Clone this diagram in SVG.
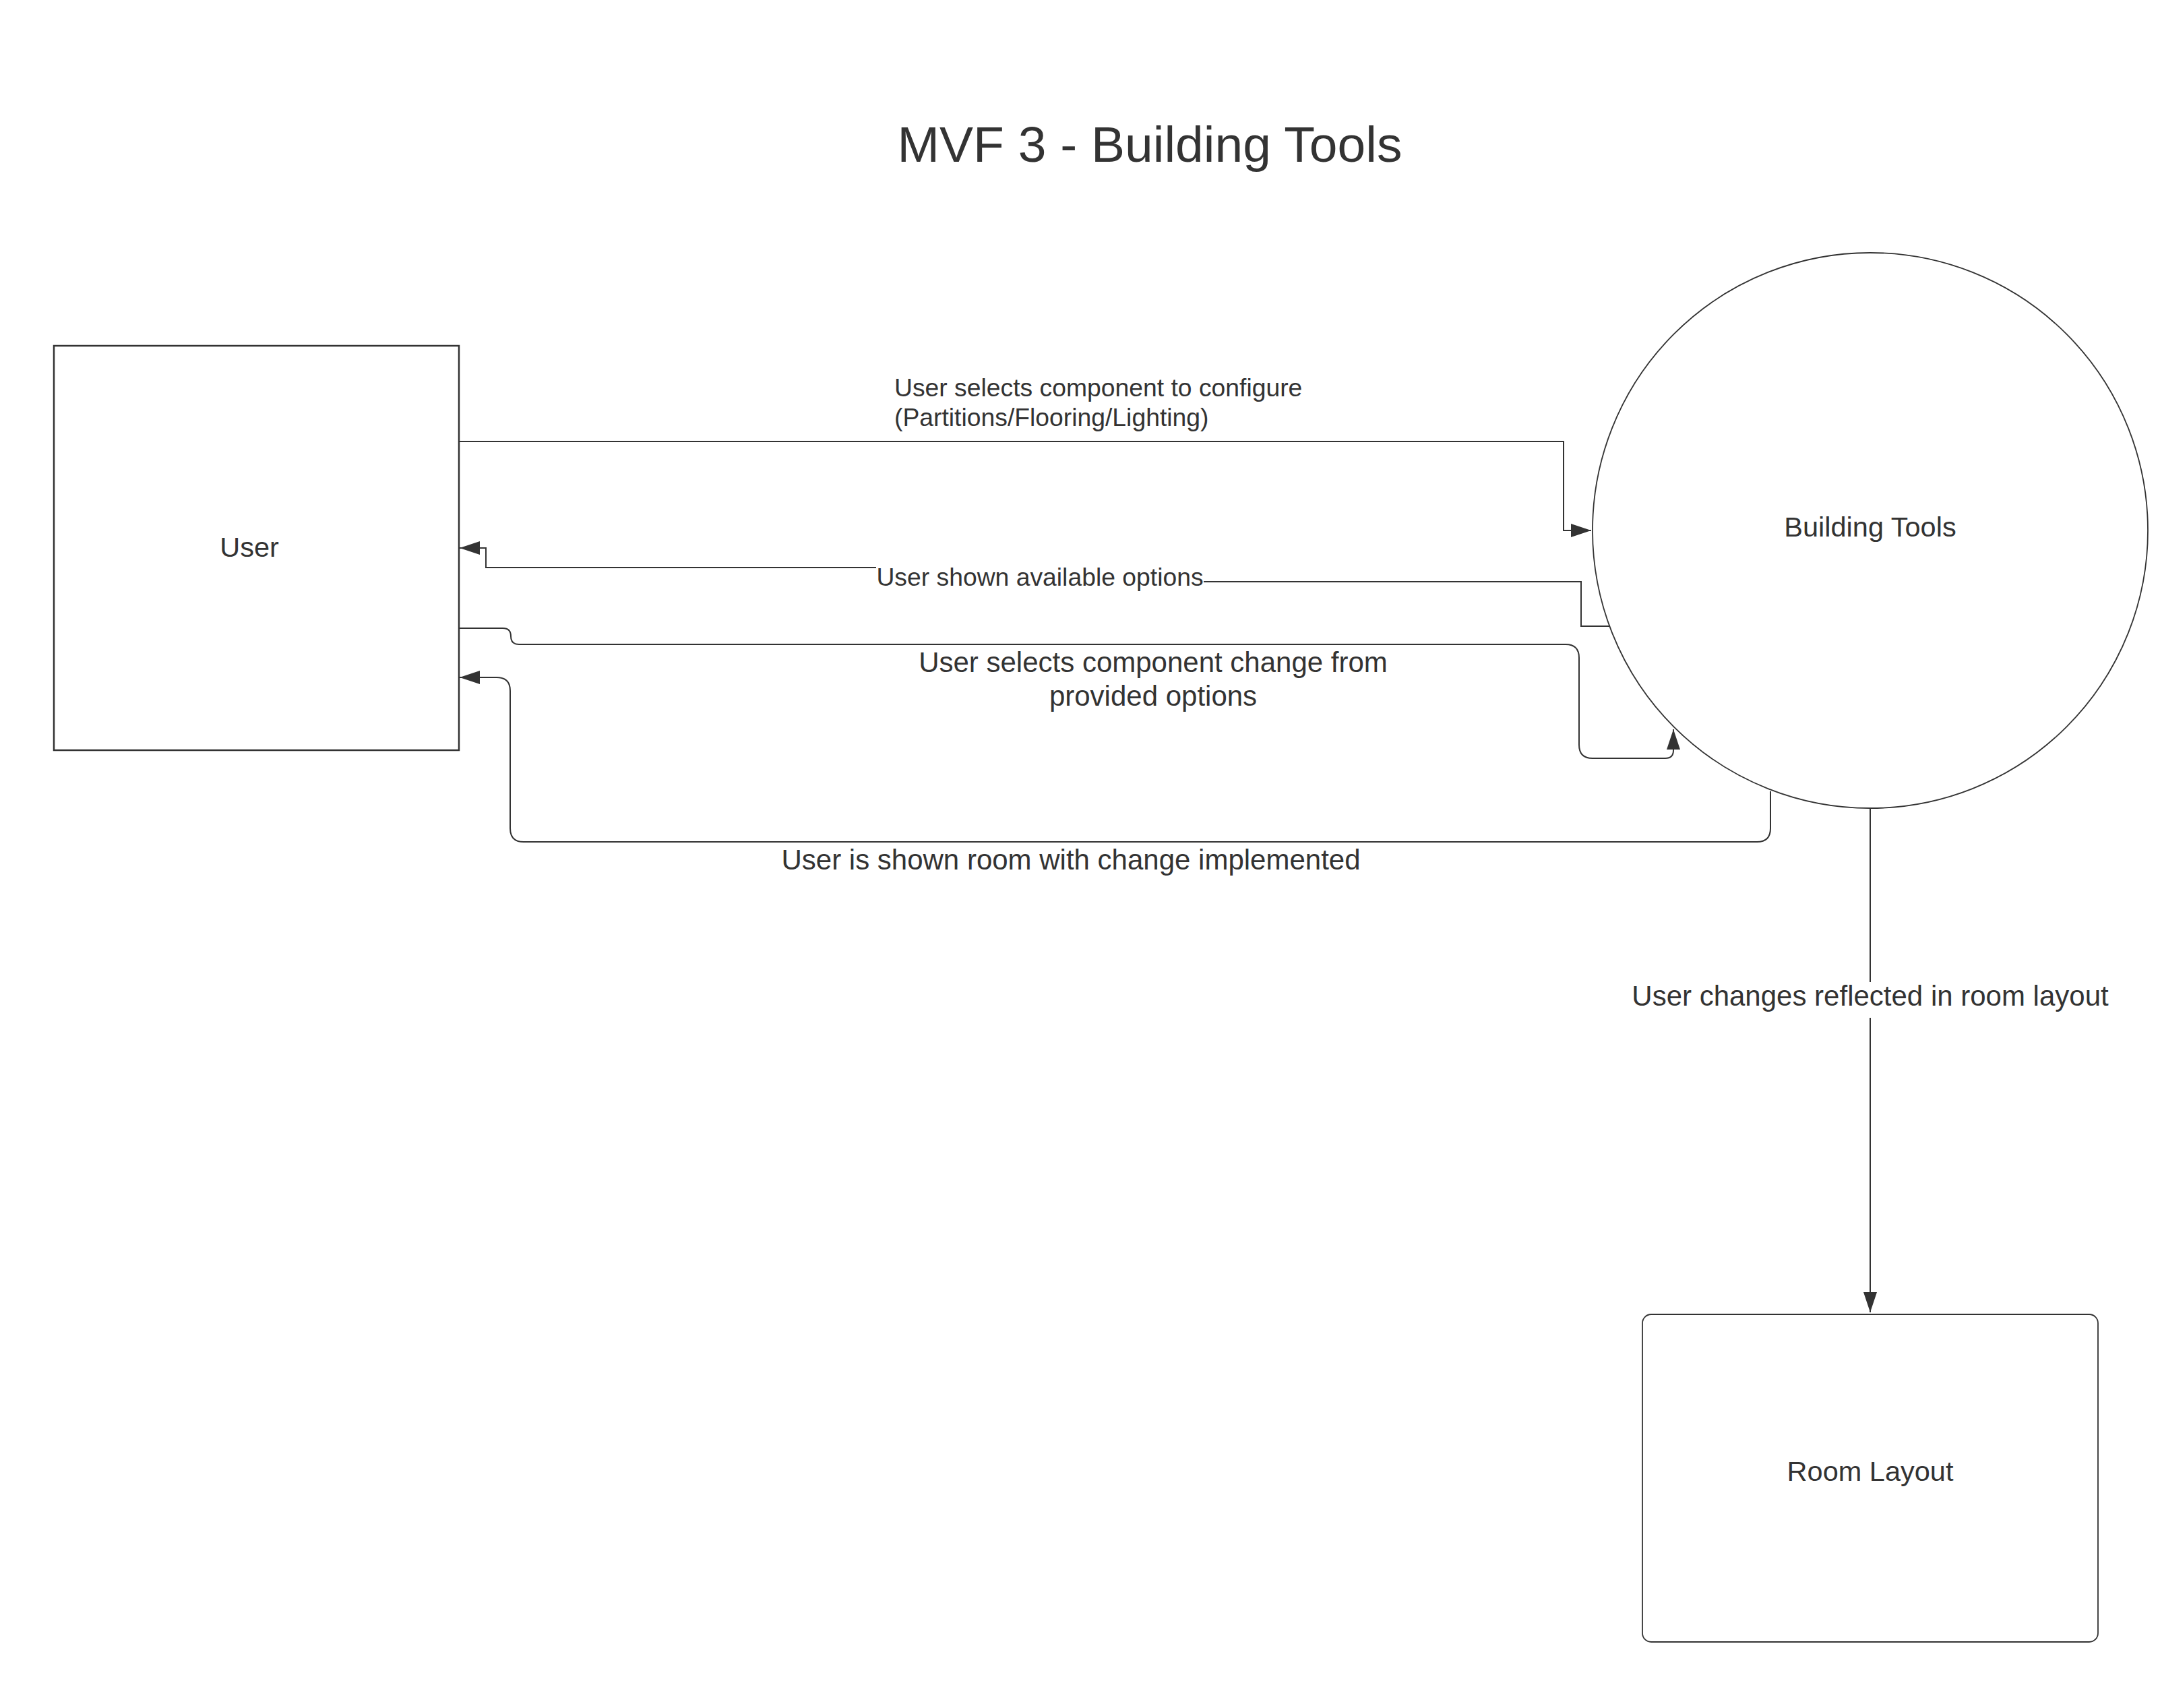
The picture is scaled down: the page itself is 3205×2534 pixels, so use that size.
<svg xmlns="http://www.w3.org/2000/svg" width="3205" height="2534" viewBox="0 0 3205 2534">
<style>
text{font-family:"Liberation Sans",Arial,sans-serif;fill:#333333}
.title{font-size:75px}
.node{font-size:41.5px}
.lbl{font-size:42px}
.lbls{font-size:37.3px}
.shape{fill:#ffffff;stroke:#333333}
.conn{fill:none;stroke:#333333;stroke-width:2}
.bg{fill:#ffffff}
</style>
<defs>
<marker id="arrow" markerUnits="userSpaceOnUse" markerWidth="31" markerHeight="20" refX="30" refY="10" orient="auto">
<path d="M0,0 L30,10 L0,20 Z" fill="#333333"/>
</marker>
</defs>
<rect width="3205" height="2534" fill="#ffffff"/>
<text class="title" x="1706" y="240" text-anchor="middle">MVF 3 - Building Tools</text>
<g id="node-user">
<rect class="shape" x="80" y="513" width="601" height="600" stroke-width="2.5"/>
<text class="node" x="370" y="826" text-anchor="middle">User</text>
</g>
<g id="node-building-tools">
<circle class="shape" cx="2775" cy="787" r="412" stroke-width="1.8"/>
<text class="node" x="2775" y="796" text-anchor="middle">Building Tools</text>
</g>
<g id="node-room-layout">
<rect class="shape" x="2437" y="1950" width="676" height="486" rx="13" ry="13" stroke-width="1.8"/>
<text class="node" x="2775" y="2197" text-anchor="middle">Room Layout</text>
</g>
<g id="connectors">
<path class="conn" d="M681,655 H2320 V787 H2361" marker-end="url(#arrow)"/>
<path class="conn" d="M2388,929 H2346 V863 H1543 V842 H721 V813 H682" marker-end="url(#arrow)"/>
<path class="conn" d="M681,932 H746 Q758,932 758,944 Q758,956 770,956 H2323 Q2343,956 2343,976 V1105 Q2343,1125 2363,1125 H2471 Q2483,1125 2483,1113 V1082" marker-end="url(#arrow)"/>
<path class="conn" d="M2627,1174 V1229 Q2627,1249 2607,1249 H777 Q757,1249 757,1229 V1025 Q757,1005 737,1005 H682" marker-end="url(#arrow)"/>
<path class="conn" d="M2775,1199 V1947" marker-end="url(#arrow)"/>
<g id="labels">
<text class="lbls" x="1327" y="588">User selects component to configure</text>
<text class="lbls" x="1327" y="632">(Partitions/Flooring/Lighting)</text>
<rect class="bg" x="1300" y="836" width="486" height="44"/>
<text class="lbls" x="1543" y="869" text-anchor="middle">User shown available options</text>
<text class="lbl" x="1711" y="997" text-anchor="middle">User selects component change from</text>
<text class="lbl" x="1711" y="1047" text-anchor="middle">provided options</text>
<text class="lbl" x="1589" y="1290" text-anchor="middle">User is shown room with change implemented</text>
<rect class="bg" x="2410" y="1457" width="730" height="53"/>
<text class="lbl" x="2775" y="1492" text-anchor="middle">User changes reflected in room layout</text>
</g>
</g>
</svg>
